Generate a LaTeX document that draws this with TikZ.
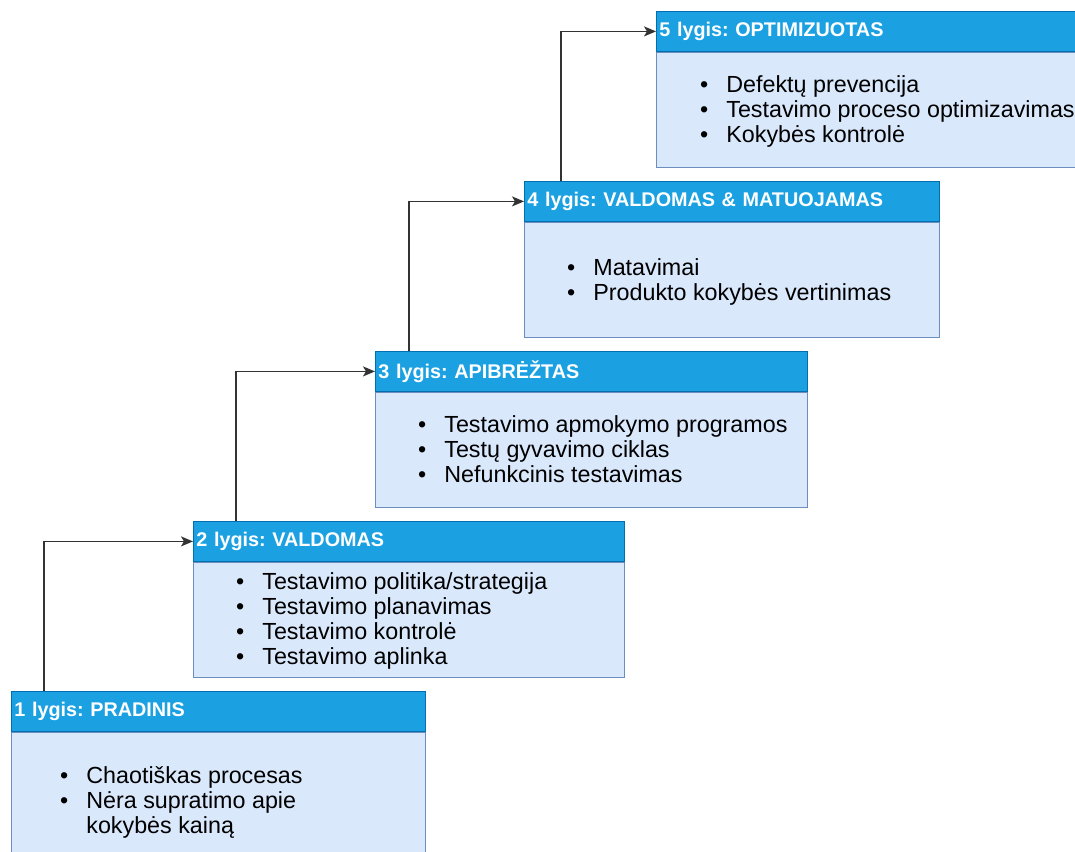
\documentclass[tikz,border=0pt]{standalone}
\usepackage{fontspec}
\setmainfont{Liberation Sans}
\usetikzlibrary{arrows.meta, positioning, calc}
\definecolor{headFill}{HTML}{1BA1E2}
\definecolor{headDraw}{HTML}{006EAF}
\definecolor{bodyFill}{HTML}{DAE8FC}
\definecolor{bodyDraw}{HTML}{6C8EBF}
\definecolor{lineDark}{HTML}{333333}
\frenchspacing

% bullet list set as a two-column table
\newcommand{\lvlitems}[1]{%
  \begin{tabular}{@{}l@{\hspace{18pt}}l@{}}#1\end{tabular}}

\begin{document}
\begin{tikzpicture}[
  x=1pt, y=-1pt,
  >={Stealth[length=12pt, width=10pt, inset=3pt]},
  head/.style={rectangle, fill=headFill, draw=headDraw, line width=0.8pt,
               anchor=north west, minimum height=40pt, inner xsep=3pt,
               inner ysep=0pt, align=left, text=white,
               font=\fontsize{19.8pt}{24pt}\selectfont\bfseries, text width=#1},
  body/.style={rectangle, fill=bodyFill, draw=bodyDraw, line width=0.8pt,
               anchor=north west, inner sep=0pt, minimum width=#1},
  items/.style={anchor=west, inner sep=0pt,
                font=\fontsize{23.3pt}{25pt}\selectfont},
  arrow/.style={->, draw=lineDark, line width=1.6pt},
]

\useasboundingbox (0,0) rectangle (1075,851);

% ── Level positions (image pixels, y downwards) ─────────────────────
\def\xA{11}  \def\yA{691}
\def\xB{193} \def\yB{521}
\def\xC{375} \def\yC{351}
\def\xD{524} \def\yD{181}
\def\xE{656} \def\yE{11}

% ── Headers ────────────────────────────────────────────────────────
\node[head=408pt] (head1) at (\xA,\yA) {1 lygis: PRADINIS};
\node[head=425pt] (head2) at (\xB,\yB) {2 lygis: VALDOMAS};
\node[head=426pt] (head3) at (\xC,\yC) {3 lygis: APIBRĖŽTAS};
\node[head=409pt] (head4) at (\xD,\yD) {4 lygis: VALDOMAS \& MATUOJAMAS};
\node[head=444pt] (head5) at (\xE,\yE) {5 lygis: OPTIMIZUOTAS};

% ── Bodies ─────────────────────────────────────────────────────────
\node[body=414pt, minimum height=140pt] (body1) at (head1.south west) {};
\node[body=431pt, minimum height=115pt] (body2) at (head2.south west) {};
\node[body=432pt, minimum height=115pt] (body3) at (head3.south west) {};
\node[body=415pt, minimum height=115pt] (body4) at (head4.south west) {};
\node[body=450pt, minimum height=115pt] (body5) at (head5.south west) {};

% ── Lists ──────────────────────────────────────────────────────────
\node[items] (items1) at ($(body1.west)+(49,1)$) {\lvlitems{%
  \textbullet & Chaotiškas procesas\\
  \textbullet & Nėra supratimo apie\\
              & kokybės kainą}};
\node[items] (items2) at ($(body2.west)+(43,2)$) {\lvlitems{%
  \textbullet & Testavimo politika/strategija\\
  \textbullet & Testavimo planavimas\\
  \textbullet & Testavimo kontrolė\\
  \textbullet & Testavimo aplinka}};
\node[items] (items3) at ($(body3.west)+(43,3)$) {\lvlitems{%
  \textbullet & Testavimo apmokymo programos\\
  \textbullet & Testų gyvavimo ciklas\\
  \textbullet & Nefunkcinis testavimas}};
\node[items] (items4) at ($(body4.west)+(43,3)$) {\lvlitems{%
  \textbullet & Matavimai\\
  \textbullet & Produkto kokybės vertinimas}};
\node[items] (items5) at ($(body5.west)+(44,3)$) {\lvlitems{%
  \textbullet & Defektų prevencija\\
  \textbullet & Testavimo proceso optimizavimas\\
  \textbullet & Kokybės kontrolė}};

% ── Step connectors ────────────────────────────────────────────────
\draw[arrow] ($(head1.north west)+(33,0)$) |- (head2.west);
\draw[arrow] ($(head2.north west)+(43,0)$) |- (head3.west);
\draw[arrow] ($(head3.north west)+(34,0)$) |- (head4.west);
\draw[arrow] ($(head4.north west)+(37,0)$) |- (head5.west);

\end{tikzpicture}
\end{document}
